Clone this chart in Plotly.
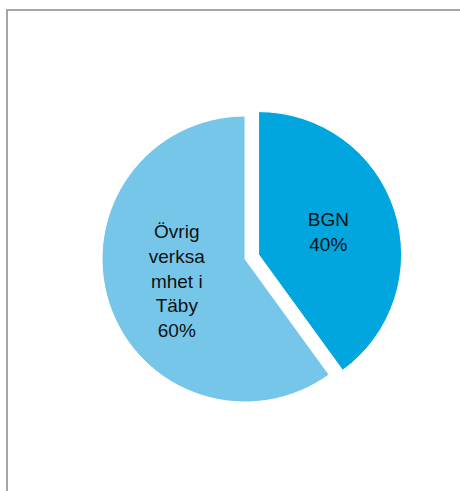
import plotly.graph_objects as go

# Data
labels = ["BGN", "Övrig verksamhet i Täby"]
label_text = ["BGN", "Övrig<br>verksa<br>mhet i<br>Täby"]
values = [40, 60]
colors = ["#00A6DD", "#76C6EA"]
pulls = [0.1, 0]

W, H = 460, 491

fig = go.Figure(
    go.Pie(
        labels=labels,
        values=values,
        text=label_text,
        sort=False,
        direction="clockwise",
        rotation=0,
        pull=pulls,
        marker=dict(colors=colors, line=dict(color="white", width=1)),
        texttemplate="%{text}<br>%{percent:.0%}",
        textposition="inside",
        insidetextorientation="horizontal",
        textfont=dict(family="Liberation Sans, Arial, sans-serif", size=19, color="#111111"),
        hoverinfo="label+percent",
        domain=dict(x=[87.7 / W, 402.3 / W], y=[1 - 416.3 / H, 1 - 101.7 / H]),
    )
)

fig.add_shape(
    type="rect", xref="paper", yref="paper",
    x0=7 / W, x1=1.05, y0=-0.05, y1=1 - 10 / H,
    line=dict(color="#A6A6A6", width=2), fillcolor="rgba(0,0,0,0)",
)

fig.update_layout(
    width=W, height=H,
    margin=dict(l=0, r=0, t=0, b=0),
    showlegend=False,
    paper_bgcolor="white",
    plot_bgcolor="white",
)

fig.write_html(
    "out.html",
    config={"displayModeBar": False},
    post_script="document.body.style.margin='0';document.body.style.overflow='hidden';",
)
